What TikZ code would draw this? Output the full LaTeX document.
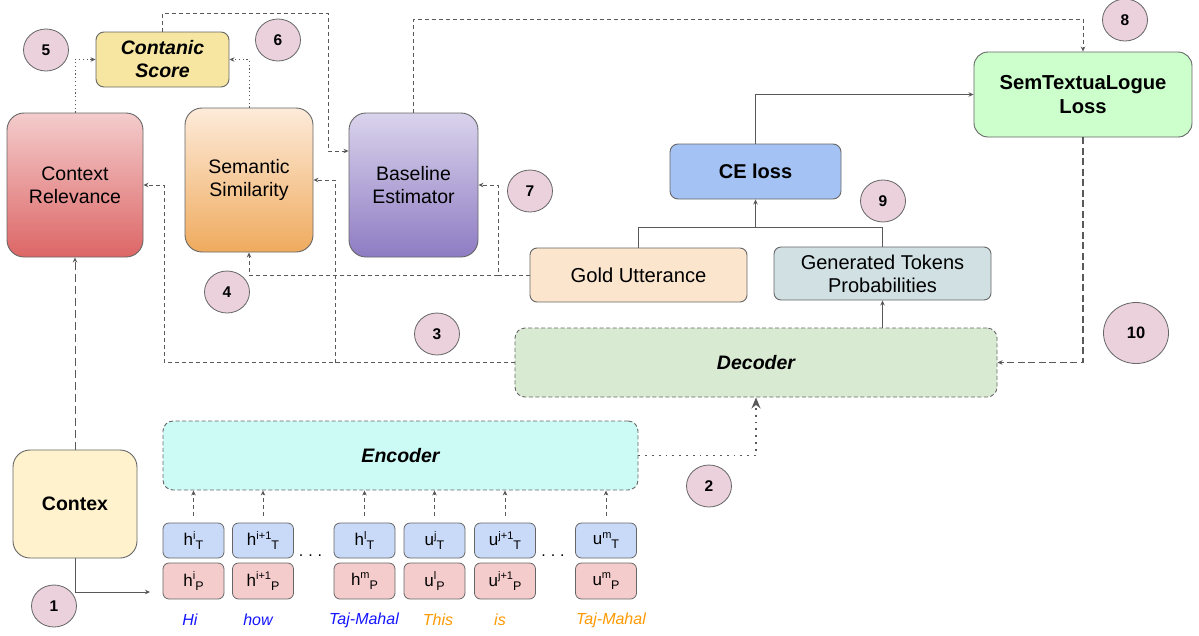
\documentclass[tikz,border=0pt]{standalone}
\usepackage{fontspec}
\setmainfont{Liberation Sans}
\usetikzlibrary{arrows.meta,calc,shapes.geometric}
\definecolor{bordergray}{HTML}{666666}
\definecolor{linegray}{HTML}{595959}
\definecolor{crtop}{HTML}{F4CCCC}
\definecolor{crbot}{HTML}{DD6666}
\definecolor{sstop}{HTML}{FDEBDA}
\definecolor{ssbot}{HTML}{EFAB5E}
\definecolor{betop}{HTML}{DAD3EC}
\definecolor{bebot}{HTML}{8E7CC3}
\definecolor{csfill}{HTML}{F7E5A2}
\definecolor{stlfill}{HTML}{CCFFCC}
\definecolor{cefill}{HTML}{A4C2F4}
\definecolor{goldfill}{HTML}{FCE5CD}
\definecolor{genfill}{HTML}{D0E0E3}
\definecolor{decfill}{HTML}{D9EAD3}
\definecolor{encfill}{HTML}{CCFAF4}
\definecolor{ctxfill}{HTML}{FFF2CC}
\definecolor{numfill}{HTML}{EAD1DC}
\definecolor{tfill}{HTML}{C9DAF8}
\definecolor{pfill}{HTML}{F4CCCC}
\definecolor{wblue}{HTML}{1414FF}
\definecolor{worange}{HTML}{FF9900}
\newcommand{\tokfmt}[3]{#1\raisebox{6.5pt}{\fontsize{11}{11}\selectfont #2}\raisebox{-4pt}{\fontsize{12.5}{12.5}\selectfont #3}}
\tikzset{
  box/.style={draw=bordergray, line width=0.9pt, align=center, inner sep=0pt,
    font=\fontsize{19.5}{23}\selectfont},
  bigbox/.style={box, rounded corners=17pt},
  midbox/.style={box, rounded corners=8pt},
  num/.style={ellipse, draw=bordergray, fill=numfill, line width=0.8pt,
    minimum width=45pt, minimum height=42pt, inner sep=0pt, font=\bfseries\fontsize{15.5}{15.5}\selectfont},
  tok/.style={draw=bordergray, line width=0.8pt, rounded corners=6pt,
    minimum width=61pt, inner sep=0pt, font=\fontsize{17}{17}\selectfont},
  tokT/.style={tok, fill=tfill, minimum height=35pt},
  tokP/.style={tok, fill=pfill, minimum height=36pt},
  word/.style={font=\itshape\fontsize{16}{16}\selectfont},
  tip/.style={-{Stealth[length=5pt,width=4.5pt]}},
  dsh/.style={draw=linegray, line width=0.9pt, dash pattern=on 4pt off 3pt},
  longdsh/.style={draw=linegray, line width=1pt, dash pattern=on 8pt off 4pt},
  dotl/.style={draw=linegray, line width=0.9pt, dash pattern=on 1.2pt off 2.6pt},
  solidl/.style={draw=linegray, line width=0.9pt},
}
\begin{document}
\begin{tikzpicture}[x=1pt,y=-1pt]
\path[use as bounding box] (0,0) rectangle (1199,635);

% main boxes
\node[bigbox, top color=crtop, bottom color=crbot, minimum width=136pt, minimum height=144pt] (cr) at (75,185) {Context\\Relevance};
\node[midbox, fill=csfill, minimum width=133pt, minimum height=55pt, font=\bfseries\itshape\fontsize{19.5}{23}\selectfont] (cs) at (162.5,59.5) {Contanic\\Score};
\node[bigbox, top color=sstop, bottom color=ssbot, minimum width=128pt, minimum height=144pt] (ss) at (249,180) {Semantic\\Similarity};
\node[bigbox, top color=betop, bottom color=bebot, minimum width=129pt, minimum height=144pt] (be) at (413.5,185) {Baseline\\Estimator};
\node[box, rounded corners=14pt, fill=stlfill, minimum width=218pt, minimum height=85pt, font=\bfseries\fontsize{20.2}{24}\selectfont] (stl) at (1083,94.5) {SemTextuaLogue\\Loss};
\node[midbox, fill=cefill, minimum width=171pt, minimum height=55pt, font=\bfseries\fontsize{20}{23}\selectfont] (ce) at (755.5,171.5) {CE loss};
\node[box, rounded corners=7pt, fill=goldfill, minimum width=217pt, minimum height=54pt, font=\fontsize{20.2}{22}\selectfont] (gold) at (638.5,275) {Gold Utterance};
\node[box, rounded corners=7pt, fill=genfill, minimum width=217pt, minimum height=53pt, font=\fontsize{20}{23}\selectfont] (gen) at (882.5,273.5) {Generated Tokens\\Probabilities};
\node[box, rounded corners=10pt, fill=decfill, dash pattern=on 4pt off 2.5pt, minimum width=482pt, minimum height=69pt, font=\bfseries\itshape\fontsize{19.5}{23}\selectfont] (dec) at (756,362.5) {Decoder};
\node[box, rounded corners=10pt, fill=encfill, dash pattern=on 4pt off 2.5pt, minimum width=475pt, minimum height=69pt, font=\bfseries\itshape\fontsize{19.5}{23}\selectfont] (enc) at (400.5,455.5) {Encoder};
\node[bigbox, fill=ctxfill, minimum width=124pt, minimum height=108pt, font=\bfseries\fontsize{19.5}{23}\selectfont] (ctx) at (75,504) {Contex};

% tokens
\node[tokT] (t1) at (193.5,540.5) {\tokfmt{h}{i}{T}};
\node[tokT] (t2) at (263,540.5) {\tokfmt{h}{i+1}{T}};
\node[tokT] (t3) at (364.5,540.5) {\tokfmt{h}{l}{T}};
\node[tokT] (t4) at (434.5,540.5) {\tokfmt{u}{j}{T}};
\node[tokT] (t5) at (505,540.5) {\tokfmt{u}{j+1}{T}};
\node[tokT] (t6) at (606,540.5) {\tokfmt{u}{m}{T}};
\node[tokP] (p1) at (193.5,581) {\tokfmt{h}{i}{P}};
\node[tokP] (p2) at (263,581) {\tokfmt{h}{i+1}{P}};
\node[tokP] (p3) at (364.5,581) {\tokfmt{h}{m}{P}};
\node[tokP] (p4) at (434.5,581) {\tokfmt{u}{l}{P}};
\node[tokP] (p5) at (505,581) {\tokfmt{u}{j+1}{P}};
\node[tokP] (p6) at (606,581) {\tokfmt{u}{m}{P}};
\node[font=\fontsize{16}{16}\selectfont] (d1) at (310.5,556) {.\hspace{5pt}.\hspace{5pt}.};
\node[font=\fontsize{16}{16}\selectfont] (d2) at (553,556) {.\hspace{5pt}.\hspace{5pt}.};

% words
\node[word, text=wblue] (w1) at (190,620) {Hi};
\node[word, text=wblue] (w2) at (258,620) {how};
\node[word, text=wblue] (w3) at (364,620) {Taj-Mahal};
\node[word, text=worange] (w4) at (438,620) {This};
\node[word, text=worange] (w5) at (500,620) {is};
\node[word, text=worange] (w6) at (611,620) {Taj-Mahal};

% numbered circles
\node[num] (n1) at (54,606) {1};
\node[num] (n2) at (709,486) {2};
\node[num] (n3) at (437,334) {3};
\node[num] (n4) at (227,292) {4};
\node[num] (n5) at (46,50) {5};
\node[num] (n6) at (278,40) {6};
\node[num] (n7) at (530,191) {7};
\node[num] (n8) at (1125,20) {8};
\node[num] (n9) at (883,201) {9};
\node[num, minimum width=65pt, minimum height=61pt, font=\bfseries\fontsize{16.5}{16.5}\selectfont] (n10) at (1136,333) {10};

% connectors
\draw[dotl, tip] (cr.north) |- (cs.west);
\draw[dotl, tip] (ss.north) |- (cs.east);
\draw[dsh, tip] (cs.north) -- (cs.north |- 0,13) -| (328,151) -- (be.west |- 0,151);
\draw[dsh, tip] (be.north) |- (stl.north |- 0,19) -- (stl.north);
\draw[dsh, tip] (dec.west) -- (164,362.5) |- (cr.east);
\draw[dsh, tip] (335,362.5) |- (ss.east);
\draw[dsh, tip] (gold.west) -- (498,275) |- (be.east);
\draw[dsh, tip] (498,275) -| (ss.south);
\draw[solidl, tip] (ce.north) |- (stl.west);
\draw[solidl] (gold.north) |- (gen.north |- 0,227) -- (gen.north);
\draw[solidl, tip] (ce.south |- 0,227) -- (ce.south);
\draw[solidl, tip] (gen.south |- dec.north) -- (gen.south);
\draw[draw=linegray, line width=1.2pt, dash pattern=on 7pt off 3.5pt, tip] (stl.south) |- (dec.east);
\draw[draw=linegray, line width=1.8pt, dash pattern=on 1.8pt off 5pt, -{Stealth[length=11pt,width=9pt]}] (enc.east) -| (dec.south);
\draw[longdsh, tip] (ctx.north) -- (cr.south);
\coordinate (tokin) at (150,592);
\draw[solidl, tip] (ctx.south) |- (tokin);
\foreach \t in {t1,t2,t3,t4,t5,t6}{
  \draw[dsh, tip, shorten <=7pt] (\t.north) -- (\t.north |- enc.south);
}
\end{tikzpicture}
\end{document}
